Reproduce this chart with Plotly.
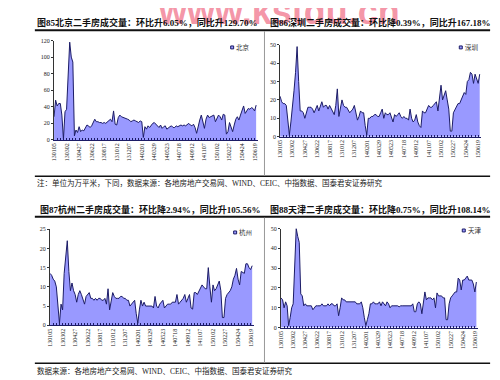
import plotly.graph_objects as go

W, H = 500, 380

# ---------------- data ----------------
# weekly observations; a date label is shown every 8 weeks
TICK_LABELS = ['130105', '130302', '130427', '130622', '130817', '131012', '131207',
               '140201', '140329', '140523', '140718', '140912', '141107', '150102',
               '150227', '150424', '150619']
WEEKS_PER_TICK = 8

BEIJING = [28, 48, 41, 44, 44, 30, 1, 34, 37, 90, 118, 100, 94, 5, 12, 9,
           16, 10, 12, 11, 14, 18, 17, 15, 17, 22, 25, 22, 22, 21, 21, 20,
           21, 20, 22, 23, 25, 22, 35, 19, 18, 27, 30, 28, 27, 26, 25, 25,
           24, 22, 23, 24, 23, 22, 21, 23, 22, 3, 16, 13, 17, 15, 18, 20,
           21, 19, 17, 15, 18, 14, 16, 17, 13, 15, 16, 17, 15, 15, 17, 16,
           17, 18, 17, 18, 17, 19, 20, 18, 17, 19, 15, 8, 18, 24, 30, 22,
           14, 25, 30, 27, 28, 29, 30, 22, 27, 30, 28, 24, 31, 30, 7, 10,
           21, 14, 10, 18, 25, 28, 24, 30, 36, 41, 32, 36, 38, 37, 39, 38, 35, 42]

SHENZHEN = [22, 19, 18, 18, 17, 8, 1, 8, 15, 25, 35, 49, 30, 14, 14, 13,
            10, 13, 16, 16, 16, 15, 13, 15, 17, 14, 16, 19, 16, 17, 17, 15,
            17, 15, 13, 12, 17, 26, 11, 15, 20, 17, 16, 16, 14, 13, 14, 15,
            17, 13, 9, 11, 14, 13, 13, 6, 1, 10, 10, 11, 11, 12, 12, 11,
            11, 13, 15, 10, 13, 12, 12, 13, 11, 8, 12, 11, 12, 13, 11, 10,
            11, 10, 10, 9, 15, 10, 8, 9, 12, 8, 6, 5, 14, 13, 13, 15,
            17, 16, 16, 17, 18, 19, 14, 22, 28, 20, 22, 25, 20, 15, 3, 3,
            13, 15, 17, 18, 18, 20, 22, 24, 23, 30, 31, 35, 34, 29, 34, 32, 29, 34]

HANGZHOU = [13.5, 13, 12, 11.5, 10, 4, 0.5, 5.5, 4, 13.5, 17, 22, 14, 9, 11, 9,
            8, 6, 8, 9, 8, 7, 5.5, 7.5, 8, 8.5, 7, 7, 6.5, 7, 6.5, 7,
            7, 6.5, 6.5, 7, 5.5, 9.5, 4, 6, 8.5, 7.5, 7, 7, 7, 7.5, 7.5, 7,
            7, 6.5, 6.5, 5, 5.5, 6, 6.5, 3, 0.5, 4, 6.5, 5, 6, 5, 5, 5,
            5, 5, 4.5, 7.5, 5, 4.5, 5.5, 6, 6.5, 4.5, 5, 5.5, 5.5, 5.5, 6, 6,
            6, 8, 5.5, 6, 6.5, 7, 8, 6, 7, 8, 4.5, 4.2, 8.5, 8.5, 8, 9,
            9.5, 10.5, 10, 9.5, 9.5, 15, 10, 6, 10.5, 9, 9.5, 10.5, 11.5, 9, 2, 2,
            7, 8, 8.5, 9, 10, 12, 13, 14.8, 12, 10.5, 14, 13.8, 13.5, 16, 16, 15, 14.5, 15.5]

TIANJIN = [15, 14, 10, 13, 11, 1, 5, 10, 12, 30, 50, 46, 43, 17, 16, 11,
           12, 11, 11, 11, 11, 9, 10, 11, 11, 11, 11, 12, 11, 11, 11, 12,
           11, 12, 12, 11, 11, 12, 6, 10, 15, 14, 14, 13, 13, 13, 13, 13,
           13, 13, 12, 12, 12, 13, 10, 5, 1, 4, 7, 12, 12, 13, 12, 12,
           12, 13, 11, 13, 12, 11, 13, 12, 10, 11, 11, 11, 11, 11, 10.5, 11,
           11, 11, 11, 11, 11, 11, 11, 12, 8, 8, 12, 13, 12, 7, 12, 18,
           14, 15, 15, 15, 14, 15, 10, 17.5, 16, 16, 16, 15, 15, 4, 4, 12,
           15, 16, 17, 18, 18, 25, 24, 19, 24, 24, 25, 26, 24, 24, 24, 22, 18, 23]

CITIES = ['北京', '深圳', '杭州', '天津']
SERIES = [BEIJING, SHENZHEN, HANGZHOU, TIANJIN]
TITLES = ['图85北京二手房成交量：环比升6.05%，同比升129.70%',
          '图86深圳二手房成交量：环比降0.39%，同比升167.18%',
          '图87杭州二手房成交量：环比降2.94%，同比升105.56%',
          '图88天津二手房成交量：环比降0.75%，同比升108.14%']
Y_TICKS = [[0, 20, 40, 60, 80, 100, 120],
           [0, 10, 20, 30, 40, 50],
           [0, 5, 10, 15, 20, 25],
           [0, 10, 20, 30, 40, 50]]
NOTE_TOP = '注：单位为万平米，下同，数据来源：各地房地产交易网、WIND、CEIC、中指数据、国泰君安证券研究'
NOTE_BOTTOM = '数据来源：各地房地产交易网、WIND、CEIC、中指数据、国泰君安证券研究'
WATERMARK = 'www.kstdu.cn'

# ---------------- layout geometry (pixels) ----------------
def px(x):
    return x / W


def py(y):
    return 1 - y / H


# (x_left, x_right, y_top, y_bottom) of each plot area
PANELS = [(43.3, 248.2, 30.0, 131.0),
          (270.7, 473.1, 34.3, 127.7),
          (39.3, 244.2, 221.7, 319.3),
          (271.7, 469.7, 221.0, 321.7)]
TITLE_POS = [(25, 12), (260, 12), (28, 202), (260, 202)]
LEGEND_POS = [(221, 37), (451, 37), (224, 225), (454, 223)]

SERIF = 'Liberation Serif, Noto Sans CJK SC, serif'
CJK = 'Noto Sans CJK SC, sans-serif'
FILL = '#9999ff'
LINE = '#1c1c66'

fig = go.Figure()
layout = dict(width=W, height=H, autosize=False,
              margin=dict(l=0, r=0, t=0, b=0),
              paper_bgcolor='white', plot_bgcolor='white',
              showlegend=False)

tickvals = [i * WEEKS_PER_TICK for i in range(len(TICK_LABELS))]

annotations = []
shapes = []


def label(text, x, y, size, family=SERIF, color='#222', xanchor='left'):
    return dict(text=text, x=px(x), y=py(y), xref='paper', yref='paper',
                xanchor=xanchor, yanchor='middle', align='left', showarrow=False,
                borderpad=0, font=dict(family=family, size=size, color=color))


# watermark first (drawn underneath titles)
annotations.append(label('<b>' + WATERMARK + '</b>', 270, 0, 36,
                         family='Liberation Sans, Arial, sans-serif',
                         color='rgba(238,80,110,0.6)', xanchor='center'))

for i, (vals, city) in enumerate(zip(SERIES, CITIES)):
    k = '' if i == 0 else str(i + 1)
    x0, x1, yt, yb = PANELS[i]
    xidx = list(range(len(vals)))
    fig.add_trace(go.Scatter(x=xidx, y=vals, mode='lines', fill='tozeroy',
                             fillcolor=FILL, line=dict(color=LINE, width=1),
                             name=city, xaxis='x' + k, yaxis='y' + k,
                             hoverinfo='y'))
    yt_list = Y_TICKS[i]
    layout['xaxis' + k] = dict(domain=[px(x0), px(x1)], anchor='y' + k,
                               range=[0, 130], showgrid=False, zeroline=False,
                               showline=True, linecolor=LINE, linewidth=1,
                               tickmode='array', tickvals=tickvals, ticktext=TICK_LABELS,
                               tickangle=-90, ticks='inside', ticklen=2, tickcolor=LINE,
                               minor=dict(dtick=2, tick0=0, ticks='inside', ticklen=2,
                                          tickcolor=LINE, tickwidth=1),
                               tickfont=dict(family=SERIF, size=6, color='#222'),
                               fixedrange=True)
    layout['yaxis' + k] = dict(domain=[py(yb), py(yt)], anchor='x' + k,
                               range=[0, yt_list[-1]], showgrid=False, zeroline=False,
                               showline=True, linecolor='#333', linewidth=1,
                               tickmode='array', tickvals=yt_list,
                               ticks='outside', ticklen=2, tickcolor='#333',
                               tickfont=dict(family=SERIF, size=6, color='#222'),
                               fixedrange=True)
    tx, ty = TITLE_POS[i]
    annotations.append(label('<b>' + TITLES[i] + '</b>', tx, ty, 9, color='#111'))
    lx, ly = LEGEND_POS[i]
    shapes.append(dict(type='rect', xref='paper', yref='paper',
                       x0=px(lx), x1=px(lx + 3), y0=py(ly + 1.5), y1=py(ly - 1.5),
                       fillcolor=FILL, line=dict(color=LINE, width=1)))
    annotations.append(label(city, lx + 4.5, ly, 6.5, family=CJK, color='#333'))

for y, w in [(19.5, 2), (168, 1.5), (209, 2), (358, 1.5)]:
    shapes.append(dict(type='line', xref='paper', yref='paper', x0=px(24), x1=px(482),
                       y0=py(y), y1=py(y), line=dict(color='#111', width=w)))
for ya, yb2 in [(20.5, 167.5), (210, 357.5)]:
    shapes.append(dict(type='line', xref='paper', yref='paper', x0=px(255), x1=px(255),
                       y0=py(ya), y1=py(yb2), line=dict(color='#999', width=1)))

annotations.append(label(NOTE_TOP, 25, 175, 7.5))
annotations.append(label(NOTE_BOTTOM, 25, 366, 7.5))

layout['annotations'] = annotations
layout['shapes'] = shapes
fig.update_layout(**layout)
fig.write_html('out.html')
